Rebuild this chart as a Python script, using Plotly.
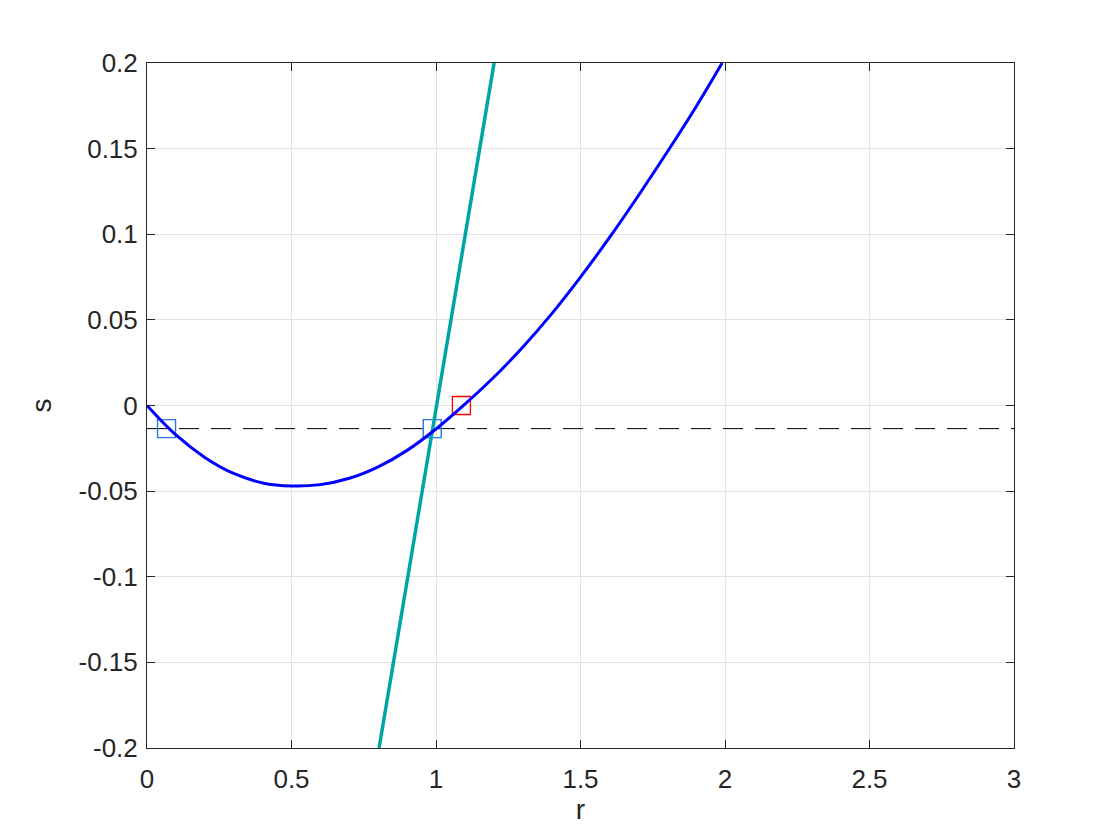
import plotly.graph_objects as go

# curva azul
r_curva = [0, 0.1, 0.2, 0.3, 0.4, 0.5, 0.6, 0.7, 0.8, 0.9, 1.0,
           1.1, 1.2, 1.3, 1.4, 1.5, 1.6, 1.7, 1.8, 1.9, 1.99]
s_curva = [0, -0.0172, -0.0303, -0.0397, -0.0452, -0.0470, -0.0462, -0.0425,
           -0.0358, -0.0262, -0.0137, 0.0008, 0.0165, 0.034, 0.0535, 0.075,
           0.098, 0.1225, 0.148, 0.1745, 0.2]

# reta verde-azulada
r_reta = [0.803, 1.201]
s_reta = [-0.2, 0.2]

# linha tracejada
r_tracejada = [0, 3]
s_tracejada = [-0.0135, -0.0135]

# marcadores
r_azuis = [0.0675, 0.987]
s_azuis = [-0.0135, -0.0135]
r_vermelho = [1.088]
s_vermelho = [0]

x_ticks = [0, 0.5, 1, 1.5, 2, 2.5, 3]
x_labels = ["0", "0.5", "1", "1.5", "2", "2.5", "3"]
y_ticks = [-0.2, -0.15, -0.1, -0.05, 0, 0.05, 0.1, 0.15, 0.2]
y_labels = ["-0.2", "-0.15", "-0.1", "-0.05", "0", "0.05", "0.1", "0.15", "0.2"]

fig = go.Figure()

fig.add_trace(go.Scatter(
    x=r_tracejada, y=s_tracejada, mode="lines",
    line=dict(color="black", width=1, dash="20px,12px")
))
fig.add_trace(go.Scatter(
    x=r_azuis, y=s_azuis, mode="markers",
    marker=dict(symbol="square-open", size=18, color="#2a78e4", line=dict(width=1.4))
))
fig.add_trace(go.Scatter(
    x=r_vermelho, y=s_vermelho, mode="markers",
    marker=dict(symbol="square-open", size=18, color="#ff0000", line=dict(width=1.3))
))
fig.add_trace(go.Scatter(
    x=r_reta, y=s_reta, mode="lines",
    line=dict(color="#00a6a6", width=3.5)
))
fig.add_trace(go.Scatter(
    x=r_curva, y=s_curva, mode="lines", line_shape="spline",
    line=dict(color="#0000ff", width=3)
))

eixo = dict(
    showline=True, mirror="ticks", linecolor="#262626", linewidth=1,
    ticks="inside", ticklen=8, tickcolor="#262626",
    showgrid=True, gridcolor="#e3e3e3", gridwidth=1, zeroline=False,
    tickfont=dict(size=26, color="#262626"),
)

fig.update_layout(
    width=1120, height=840,
    margin=dict(l=139, r=114, t=55, b=100),
    paper_bgcolor="white", plot_bgcolor="white",
    showlegend=False,
    font=dict(family="Liberation Sans, Arial, sans-serif", color="#262626"),
    xaxis=dict(eixo, range=[0, 3], tickvals=x_ticks, ticktext=x_labels,
               ticklabelstandoff=8,
               title=dict(text="r", font=dict(size=28), standoff=6)),
    yaxis=dict(eixo, range=[-0.2, 0.2], tickvals=y_ticks, ticktext=y_labels,
               ticklabelstandoff=3,
               title=dict(text="s", font=dict(size=28), standoff=18)),
)

fig.write_html("out.html")
